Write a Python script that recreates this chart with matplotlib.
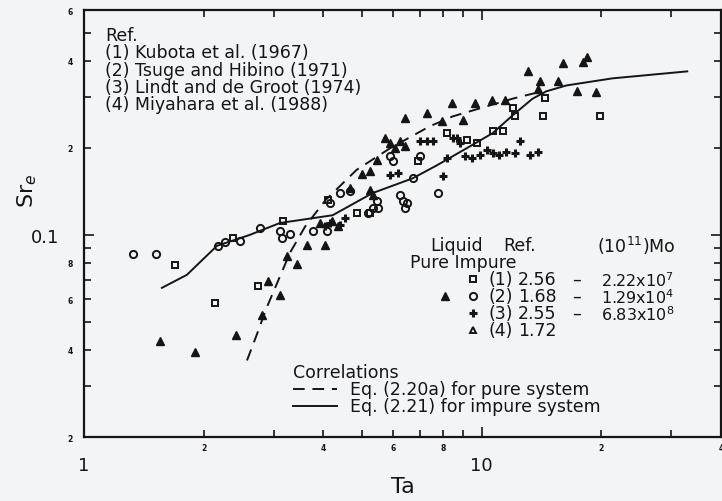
import matplotlib
matplotlib.use("Agg")
import matplotlib.pyplot as plt
from matplotlib.lines import Line2D
from matplotlib.ticker import FixedLocator, FixedFormatter

INK = "#151515"
PAPER = "#f3f4f6"

# (1) Kubota et al. (1967) - impure liquid
kubota_ta = [1.69, 2.13, 2.74, 2.37, 3.16, 4.10, 4.85, 5.23, 6.91, 8.17, 9.17, 9.71,
             10.66, 11.29, 11.96, 12.1, 14.4, 14.23, 19.8]
kubota_sr = [0.0788, 0.0583, 0.0667, 0.0976, 0.1117, 0.132, 0.119, 0.119, 0.180, 0.225,
             0.2126, 0.2077, 0.2286, 0.2286, 0.274, 0.257, 0.297, 0.257, 0.257]

# (2) Tsuge and Hibino (1971) - impure liquid
tsuge_imp_ta = [1.33, 1.52, 2.17, 2.26, 2.47, 2.77, 3.11, 3.14, 3.29, 3.76, 4.08, 4.15,
                4.40, 4.66, 5.17, 5.32, 5.45, 5.48, 6.22, 6.33, 6.41, 6.48, 6.71, 7.75,
                6.98, 5.87, 5.98]
tsuge_imp_sr = [0.086, 0.086, 0.0917, 0.0946, 0.0953, 0.1057, 0.1032, 0.0976, 0.1008,
                0.1032, 0.1032, 0.129, 0.1396, 0.142, 0.119, 0.124, 0.131, 0.124, 0.1374,
                0.131, 0.124, 0.129, 0.157, 0.1396, 0.187, 0.187, 0.180]

# (2) Tsuge and Hibino (1971) - pure liquid
tsuge_pure_ta = [1.55, 1.90, 2.41, 2.80, 2.90, 3.11, 3.24, 3.43, 3.63, 4.03, 3.92, 4.20,
                 4.35, 4.66, 4.99, 5.23, 5.45, 5.87, 6.04, 6.22, 6.41, 5.23, 5.32, 5.70]
tsuge_pure_sr = [0.0431, 0.0395, 0.0452, 0.053, 0.0694, 0.0621, 0.0846, 0.0794, 0.0924,
                 0.0924, 0.110, 0.112, 0.1074, 0.145, 0.1625, 0.166, 0.1815, 0.2077,
                 0.1995, 0.211, 0.2027, 0.143, 0.1374, 0.216]

# (3) Lindt and de Groot (1974) - impure liquid
lindt_ta = [5.87, 7.98, 8.17, 9.44, 6.98, 7.27, 7.53, 8.45, 8.80, 9.89, 10.3, 10.66,
            11.09, 11.55, 12.1, 12.46, 13.2, 13.83, 9.06, 8.66, 4.15, 4.40, 4.03, 4.53,
            6.15]
lindt_sr = [0.161, 0.1597, 0.184, 0.184, 0.211, 0.211, 0.211, 0.216, 0.2077, 0.189,
            0.196, 0.192, 0.189, 0.194, 0.192, 0.211, 0.189, 0.194, 0.187, 0.216, 0.110,
            0.108, 0.1074, 0.1145, 0.1637]

# (4) Miyahara et al. (1988)
miyahara_ta = [6.41, 7.27, 8.41, 9.60, 10.6, 11.42, 7.94, 8.96, 13.05, 15.98, 17.94,
               18.46, 13.99, 15.52, 17.33, 19.45, 13.83]
miyahara_sr = [0.253, 0.264, 0.285, 0.285, 0.292, 0.292, 0.247, 0.249, 0.368, 0.392,
               0.398, 0.411, 0.342, 0.340, 0.314, 0.311, 0.321]

# Eq. (2.20a), pure system
pure_ta = [2.57, 2.72, 2.88, 3.1, 3.3, 3.6, 4.05, 4.85, 5.87, 7.4, 8.45, 9.89, 11.96, 14.2]
pure_sr = [0.0368, 0.0452, 0.056, 0.0711, 0.087, 0.107, 0.132, 0.168, 0.199, 0.2375,
           0.257, 0.274, 0.296, 0.314]

# Eq. (2.21), impure system
impure_ta = [1.57, 1.815, 2.16, 2.61, 3.11, 4.22, 5.32, 6.71, 7.71, 9.17, 10.66, 11.96,
             13.43, 14.55, 16.35, 21.3, 32.9]
impure_sr = [0.0656, 0.0728, 0.0917, 0.100, 0.110, 0.117, 0.1396, 0.157, 0.174, 0.1995,
             0.225, 0.259, 0.296, 0.314, 0.329, 0.348, 0.368]

refs = ["(1) Kubota et al. (1967)", "(2) Tsuge and Hibino (1971)",
        "(3) Lindt and de Groot (1974)", "(4) Miyahara et al. (1988)"]
ref_nums = ["(1)", "(2)", "(3)", "(4)"]
mo_pure = ["2.56", "1.68", "2.55", "1.72"]
mo_impure = ["2.22x10$^7$", "1.29x10$^4$", "6.83x10$^8$", ""]

W, H = 722, 502
fig = plt.figure(figsize=(W / 100, H / 100), dpi=100, facecolor=PAPER)
ax = fig.add_axes([84 / W, 1 - 438 / H, (721 - 84) / W, (438 - 11) / H])
ax.set_facecolor(PAPER)


def px(x, y):
    return x / W, 1 - y / H


open_kw = dict(ls="none", mfc="none", mec=INK, mew=1.4, clip_on=False)
ax.plot(kubota_ta, kubota_sr, marker="s", ms=4.4, **open_kw)
ax.plot(tsuge_imp_ta, tsuge_imp_sr, marker="o", ms=5.2, **open_kw)
ax.plot(lindt_ta, lindt_sr, ls="none", marker="+", ms=5.5, mew=2.2, color=INK)
ax.plot(tsuge_pure_ta, tsuge_pure_sr, ls="none", marker="^", ms=6, color=INK)
ax.plot(miyahara_ta, miyahara_sr, ls="none", marker="^", ms=6, color=INK)

ax.plot(pure_ta, pure_sr, color=INK, lw=1.4, dashes=(6, 4))
ax.plot(impure_ta, impure_sr, color=INK, lw=1.4)

ax.set_xscale("log")
ax.set_yscale("log")
ax.set_xlim(1, 40)
ax.set_ylim(0.02, 0.6)

ax.xaxis.set_major_locator(FixedLocator([1, 10]))
ax.xaxis.set_major_formatter(FixedFormatter(["1", "10"]))
ax.xaxis.set_minor_locator(FixedLocator([2, 3, 4, 5, 6, 7, 8, 9, 20, 30, 40]))
ax.xaxis.set_minor_formatter(FixedFormatter(["2", "", "4", "", "6", "", "8", "", "2", "", "4"]))
ax.yaxis.set_major_locator(FixedLocator([0.1]))
ax.yaxis.set_major_formatter(FixedFormatter(["0.1"]))
ax.yaxis.set_minor_locator(FixedLocator([0.02, 0.03, 0.04, 0.05, 0.06, 0.07, 0.08, 0.09,
                                         0.2, 0.3, 0.4, 0.5, 0.6]))
ax.yaxis.set_minor_formatter(FixedFormatter(["2", "", "4", "", "6", "", "8", "",
                                             "2", "", "4", "", "6"]))

ax.tick_params(which="both", direction="in", top=True, right=True, color=INK,
               labelcolor=INK, width=1.2)
ax.tick_params(which="major", length=7, labelsize=13)
ax.tick_params(which="minor", length=5, labelsize=5.5)
ax.tick_params(axis="x", which="major", pad=14)
ax.tick_params(axis="x", which="minor", pad=4)
ax.tick_params(axis="y", which="major", pad=18)
ax.tick_params(axis="y", which="minor", pad=8)
for lab in ax.xaxis.get_minorticklabels() + ax.yaxis.get_minorticklabels():
    lab.set_fontweight("bold")
for sp in ax.spines.values():
    sp.set_linewidth(1.6)
    sp.set_color(INK)

ax.set_xlabel("Ta", fontsize=16, color=INK)
ax.xaxis.set_label_coords(0.5, -0.092)
ax.set_ylabel("Sr$_e$", fontsize=16, color=INK)
ax.yaxis.set_label_coords(-0.07, 0.58)

# reference list, upper left
fs = 12.5
fig.text(*px(105, 36), "Ref.", fontsize=fs, color=INK, va="center")
for i, r in enumerate(refs):
    fig.text(*px(105, 53 + 17.5 * i), r, fontsize=fs, color=INK, va="center")

# symbol key, right
fig.text(*px(430, 246), "Liquid", fontsize=fs, color=INK, va="center")
fig.text(*px(503, 246), "Ref.", fontsize=fs, color=INK, va="center")
fig.text(*px(597, 246), "(10$^{11}$)Mo", fontsize=fs, color=INK, va="center")
fig.text(*px(410, 263), "Pure Impure", fontsize=fs, color=INK, va="center")
row_y = [280, 297, 314, 331]
for i in range(4):
    y = row_y[i]
    fig.text(*px(489, y), ref_nums[i], fontsize=fs, color=INK, va="center")
    fig.text(*px(518, y), mo_pure[i], fontsize=fs, color=INK, va="center")
    if mo_impure[i]:
        fig.text(*px(572, y), "\u2013", fontsize=fs, color=INK, va="center")
        fig.text(*px(601, y + 1), mo_impure[i], fontsize=11.5, color=INK, va="center")

key_markers = [
    (473, row_y[0], dict(marker="s", ms=4.4, mfc="none", mec=INK, mew=1.4)),
    (445, row_y[1], dict(marker="^", ms=6, color=INK)),
    (473, row_y[1], dict(marker="o", ms=5.2, mfc="none", mec=INK, mew=1.4)),
    (473, row_y[2], dict(marker="+", ms=5.5, mew=2.2, color=INK)),
    (473, row_y[3], dict(marker="^", ms=5, mfc="none", mec=INK, mew=1.4)),
]
for x, y, kw in key_markers:
    fx, fy = px(x, y)
    fig.add_artist(Line2D([fx], [fy], ls="none", transform=fig.transFigure, **kw))

# correlations key
fig.text(*px(293, 373), "Correlations", fontsize=fs, color=INK, va="center")
x0, y0 = px(293, 390)
x1, _ = px(337, 390)
fig.add_artist(Line2D([x0, x1], [y0, y0], color=INK, lw=1.4, dashes=(6, 4),
                      transform=fig.transFigure))
fig.text(*px(350, 390), "Eq. (2.20a) for pure system", fontsize=fs, color=INK, va="center")
x0, y0 = px(293, 407)
fig.add_artist(Line2D([x0, x1], [y0, y0], color=INK, lw=1.4, transform=fig.transFigure))
fig.text(*px(350, 407), "Eq. (2.21) for impure system", fontsize=fs, color=INK, va="center")

fig.savefig("out.png", dpi=100, facecolor=PAPER)
